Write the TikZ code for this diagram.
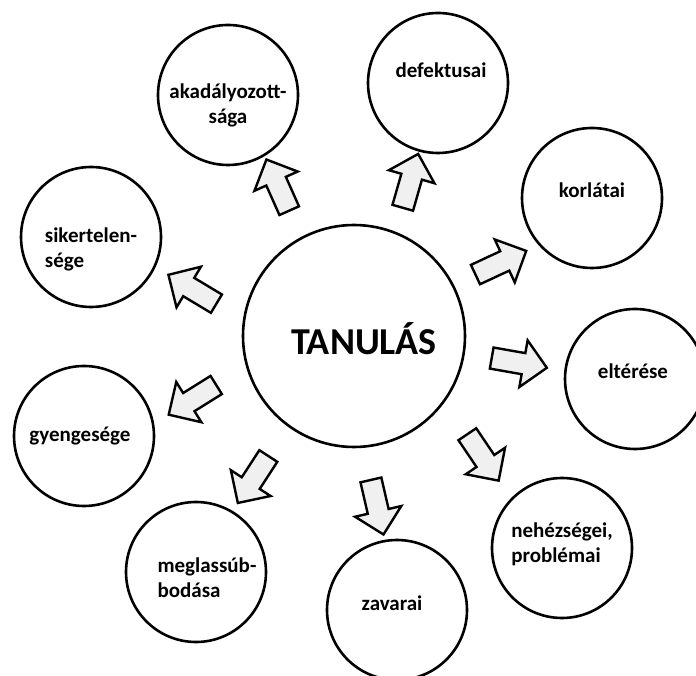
\documentclass[tikz,border=0pt]{standalone}
\usepackage{fontspec}
\setmainfont{Carlito}
\usetikzlibrary{shapes.arrows}

\definecolor{arrowgray}{HTML}{F0F0F0}

\begin{document}
\begin{tikzpicture}[x=1pt, y=1pt,
  every node/.style={font=\bfseries\fontsize{21}{25}\selectfont},
  topic/.style={draw, circle, line width=2.6pt, minimum size=140pt, inner sep=0pt},
  word/.style={align=center, inner sep=0pt},
  push/.style={draw, fill=arrowgray, single arrow, line width=2.4pt, minimum height=56pt, inner xsep=0pt, inner ysep=9.5pt, single arrow head extend=13pt}]
\useasboundingbox (0,0) rectangle (696,675);
\clip (0,0) rectangle (696,675);

\node[topic, minimum size=222pt, label={[word, font=\bfseries\fontsize{38}{44}\selectfont, xshift=10pt, yshift=-3pt]center:TANULÁS}] (learn) at (354,339) {};

\node[topic, label={[word, yshift=-10pt]center:akadályozott-\\sága}] (akad) at (228,580) {};
\node[topic, label={[word, xshift=3pt, yshift=13pt]center:defektusai}] (defekt) at (438,592) {};
\node[topic, label={[word, yshift=8pt]center:korlátai}] (korlat) at (592,477) {};
\node[topic, label={[word, xshift=-2pt, yshift=8pt]center:eltérése}] (elter) at (635,296) {};
\node[topic, label={[word, align=left, yshift=4pt]center:nehézségei,\\problémai}] (nehez) at (562,127) {};
\node[topic, label={[word, xshift=-5pt, yshift=7pt]center:zavarai}] (zavar) at (397,65) {};
\node[topic, label={[word, align=left, xshift=11pt, yshift=-6pt]center:meglassúb-\\bodása}] (lassu) at (196,103) {};
\node[topic, label={[word, xshift=-4pt]center:gyengesége}] (gyenge) at (84,239) {};
\node[topic, label={[word, align=left, yshift=-12pt]center:sikertelen-\\sége}] (siker) at (91,438) {};

\node[push, rotate=114] (p1) at (280,485) {};
\node[push, rotate=74] (p2) at (409,489) {};
\node[push, rotate=25] (p3) at (496,410) {};
\node[push, rotate=-10] (p4) at (514,313) {};
\node[push, rotate=-56] (p5) at (480,222) {};
\node[push, rotate=-77] (p6) at (376,173) {};
\node[push, rotate=-123] (p7) at (256,200) {};
\node[push, rotate=-148] (p8) at (197,278) {};
\node[push, rotate=149] (p9) at (197,383) {};
\end{tikzpicture}
\end{document}
